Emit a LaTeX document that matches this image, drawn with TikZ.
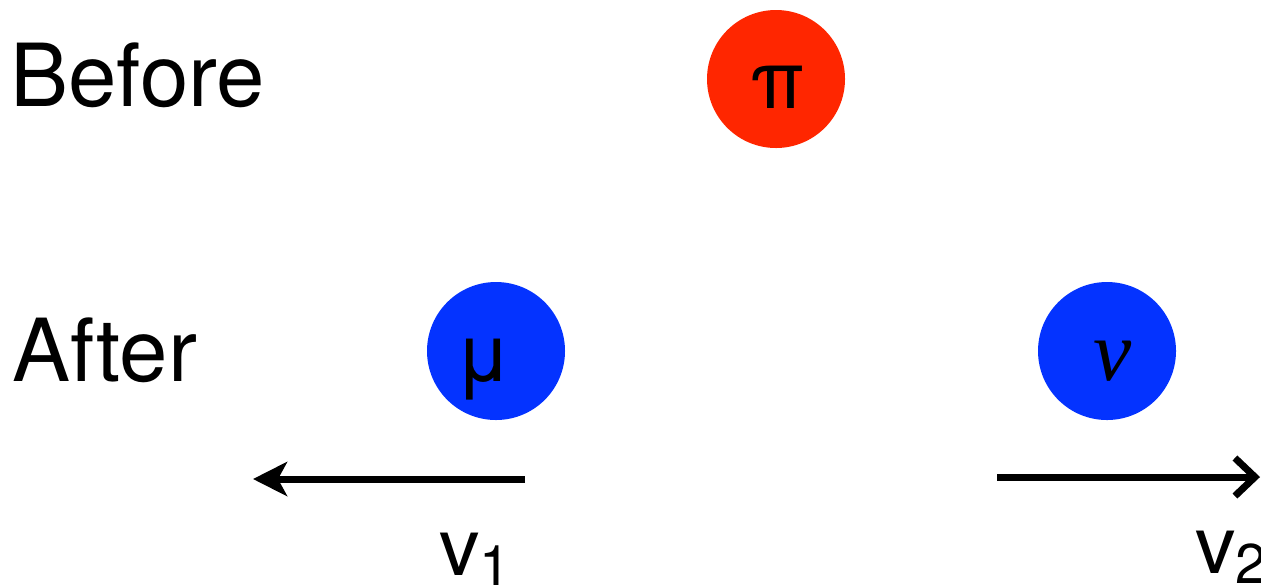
\documentclass[tikz,border=0pt]{standalone}
\usepackage{fontspec}
\setmainfont{TeX Gyre Heros}
\newfontfamily\serifit{Liberation Serif}
\usetikzlibrary{arrows.meta}
\definecolor{pired}{RGB}{255,38,0}
\definecolor{lepblue}{RGB}{4,51,255}
\begin{document}
\begin{tikzpicture}[x=0.5pt,y=-0.5pt,
  ball/.style={circle,minimum size=69pt,inner sep=0pt},
  lbl/.style={inner sep=0pt,font=\fontsize{40.5}{40.5}\selectfont},
  big/.style={inner sep=0pt,font=\fontsize{43.5}{43.5}\selectfont},
  vel/.style={line width=3.5pt}]
\useasboundingbox (0,0) rectangle (1261,586);
\node[ball,fill=pired] (pi) at (776,79) {};
\node[ball,fill=lepblue] (mu) at (496,351) {};
\node[ball,fill=lepblue] (nu) at (1107,351) {};
\node[lbl,anchor=base] (pit) at (778,108) {π};
\node[lbl,anchor=base] (mut) at (484,381) {μ};
\node[lbl,anchor=base] (nut) at (1113,380) {\serifit\itshape\fontsize{43}{43}\selectfont ν};
\node[big,anchor=base west] (before) at (10,106) {Before};
\node[big,anchor=base west] (after) at (12,381) {After};
\coordinate (a1s) at (525,479);
\coordinate (a1e) at (253,479);
\coordinate (a2s) at (997,477);
\coordinate (a2e) at (1260,477);
\draw[vel,-{Stealth[length=17pt,width=17pt,inset=4.5pt]}] (a1s) -- (a1e);
\draw[vel,-{Straight Barb[length=10pt,width=19pt]}] (a2s) -- (a2e);
\node[lbl,anchor=base west] (v1) at (439,575) {v\raisebox{-5pt}{\fontsize{28}{28}\selectfont 1}};
\node[lbl,anchor=base west] (v2) at (1195,573) {v\raisebox{-5pt}{\fontsize{28}{28}\selectfont 2}};
\end{tikzpicture}
\end{document}
